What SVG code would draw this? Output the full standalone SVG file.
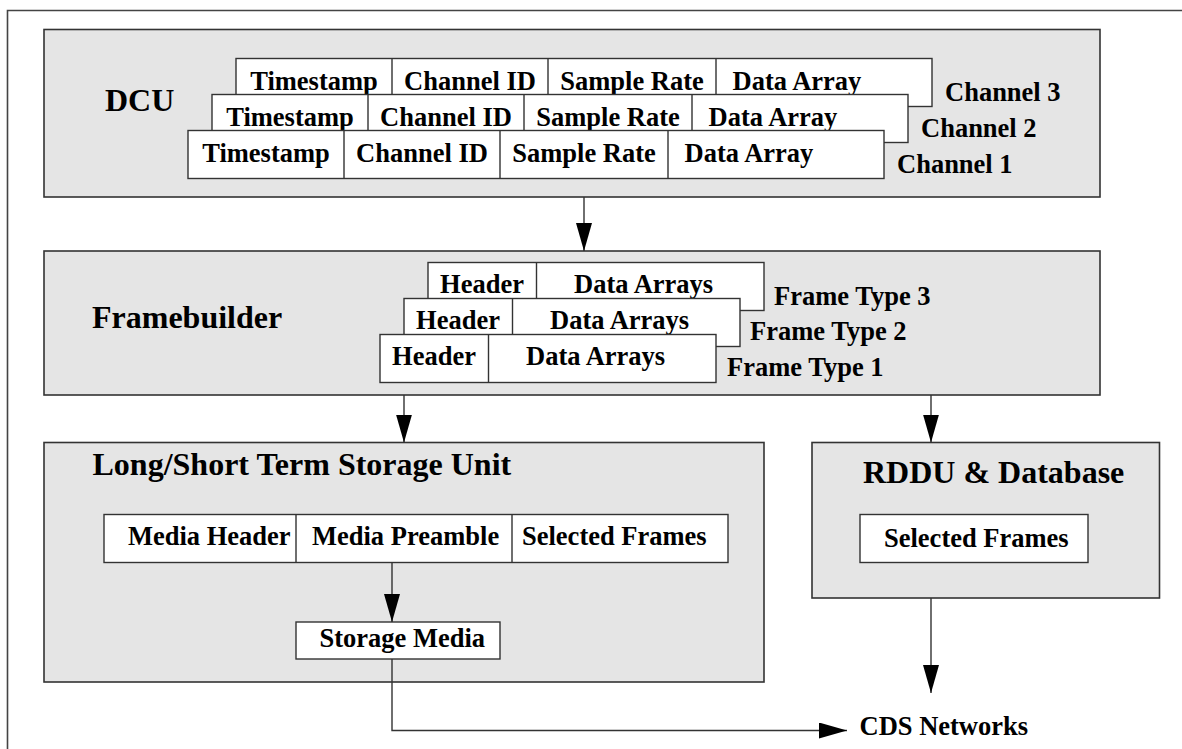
<svg xmlns="http://www.w3.org/2000/svg" width="1182" height="749" viewBox="0 0 1182 749">
<style>
text{font-family:"Liberation Serif","Times New Roman",serif;font-weight:bold;fill:#000}
.t{font-size:32px}
.s{font-size:26.5px}
.box{fill:#e5e5e5;stroke:#333;stroke-width:1.6}
.cell{fill:#fff;stroke:#333;stroke-width:1.4}
.ln{fill:none;stroke:#333;stroke-width:1.4}
.frame{fill:none;stroke:#444;stroke-width:1.6}
</style>
<defs>
<marker id="ah" markerUnits="userSpaceOnUse" markerWidth="28" markerHeight="16" refX="28" refY="8" orient="auto">
<path d="M0,0 L28,8 L0,16 Z" fill="#000"/>
</marker>
</defs>
<rect width="1182" height="749" fill="#fff"/>
<path class="frame" d="M7.5,749 V10.5 H1182"/>

<g id="dcu">
<rect class="box" x="44" y="29.5" width="1056" height="167.5"/>
<text class="t" x="105" y="111">DCU</text>
<g id="ch3">
<rect class="cell" x="236" y="58.5" width="696" height="48"/>
<path class="ln" d="M392,58.5 V106.5 M548,58.5 V106.5 M716,58.5 V106.5"/>
<text class="s" x="314" y="90" text-anchor="middle">Timestamp</text>
<text class="s" x="470" y="90" text-anchor="middle">Channel ID</text>
<text class="s" x="632" y="90" text-anchor="middle">Sample Rate</text>
<text class="s" x="732.5" y="90">Data Array</text>
<text class="s" x="945" y="101">Channel 3</text>
</g>
<g id="ch2">
<rect class="cell" x="212" y="94.5" width="696" height="48"/>
<path class="ln" d="M368,94.5 V142.5 M524,94.5 V142.5 M692,94.5 V142.5"/>
<text class="s" x="290" y="126" text-anchor="middle">Timestamp</text>
<text class="s" x="446" y="126" text-anchor="middle">Channel ID</text>
<text class="s" x="608" y="126" text-anchor="middle">Sample Rate</text>
<text class="s" x="708.5" y="126">Data Array</text>
<text class="s" x="921" y="137">Channel 2</text>
</g>
<g id="ch1">
<rect class="cell" x="188" y="130.5" width="696" height="48"/>
<path class="ln" d="M344,130.5 V178.5 M500,130.5 V178.5 M668,130.5 V178.5"/>
<text class="s" x="266" y="162" text-anchor="middle">Timestamp</text>
<text class="s" x="422" y="162" text-anchor="middle">Channel ID</text>
<text class="s" x="584" y="162" text-anchor="middle">Sample Rate</text>
<text class="s" x="684.5" y="162">Data Array</text>
<text class="s" x="897" y="173">Channel 1</text>
</g>
</g>

<g id="framebuilder">
<rect class="box" x="44" y="251" width="1056" height="144"/>
<text class="t" x="92" y="328">Framebuilder</text>
<g id="ft3">
<rect class="cell" x="428" y="262.5" width="336" height="48"/>
<path class="ln" d="M536.5,262.5 V310.5"/>
<text class="s" x="482" y="293" text-anchor="middle">Header</text>
<text class="s" x="574" y="293">Data Arrays</text>
<text class="s" x="774" y="305">Frame Type 3</text>
</g>
<g id="ft2">
<rect class="cell" x="404" y="298.5" width="336" height="48"/>
<path class="ln" d="M512.5,298.5 V346.5"/>
<text class="s" x="458" y="329" text-anchor="middle">Header</text>
<text class="s" x="550" y="329">Data Arrays</text>
<text class="s" x="750" y="340">Frame Type 2</text>
</g>
<g id="ft1">
<rect class="cell" x="380" y="334.5" width="336" height="48"/>
<path class="ln" d="M488.5,334.5 V382.5"/>
<text class="s" x="434" y="365" text-anchor="middle">Header</text>
<text class="s" x="526" y="365">Data Arrays</text>
<text class="s" x="727" y="376">Frame Type 1</text>
</g>
</g>

<g id="storage">
<rect class="box" x="44" y="442.5" width="720" height="239.5"/>
<text class="t" x="92.5" y="475">Long/Short Term Storage Unit</text>
<g id="media-row">
<rect class="cell" x="104" y="514.5" width="624" height="48"/>
<path class="ln" d="M296,514.5 V562.5 M512,514.5 V562.5"/>
<text class="s" x="128" y="545">Media Header</text>
<text class="s" x="312" y="545">Media Preamble</text>
<text class="s" x="522" y="545">Selected Frames</text>
</g>
<g id="storage-media">
<rect class="cell" x="296" y="622" width="204" height="37"/>
<text class="s" x="319.5" y="647">Storage Media</text>
</g>
</g>

<g id="rddu">
<rect class="box" x="812" y="442.5" width="347.5" height="155.5"/>
<text class="t" x="863" y="483">RDDU &amp; Database</text>
<g id="rddu-frames">
<rect class="cell" x="860" y="514.5" width="228" height="48"/>
<text class="s" x="884" y="546.5">Selected Frames</text>
</g>
</g>

<g id="cds">
<text class="s" x="859.5" y="735">CDS Networks</text>
</g>

<g id="connectors">
<path class="ln" d="M584,197 V251" marker-end="url(#ah)"/>
<path class="ln" d="M404,395 V442.5" marker-end="url(#ah)"/>
<path class="ln" d="M931,395 V442.5" marker-end="url(#ah)"/>
<path class="ln" d="M392,562.5 V622" marker-end="url(#ah)"/>
<path class="ln" d="M392,659 V730.5 H847" marker-end="url(#ah)"/>
<path class="ln" d="M931,598 V693" marker-end="url(#ah)"/>
</g>
</svg>
